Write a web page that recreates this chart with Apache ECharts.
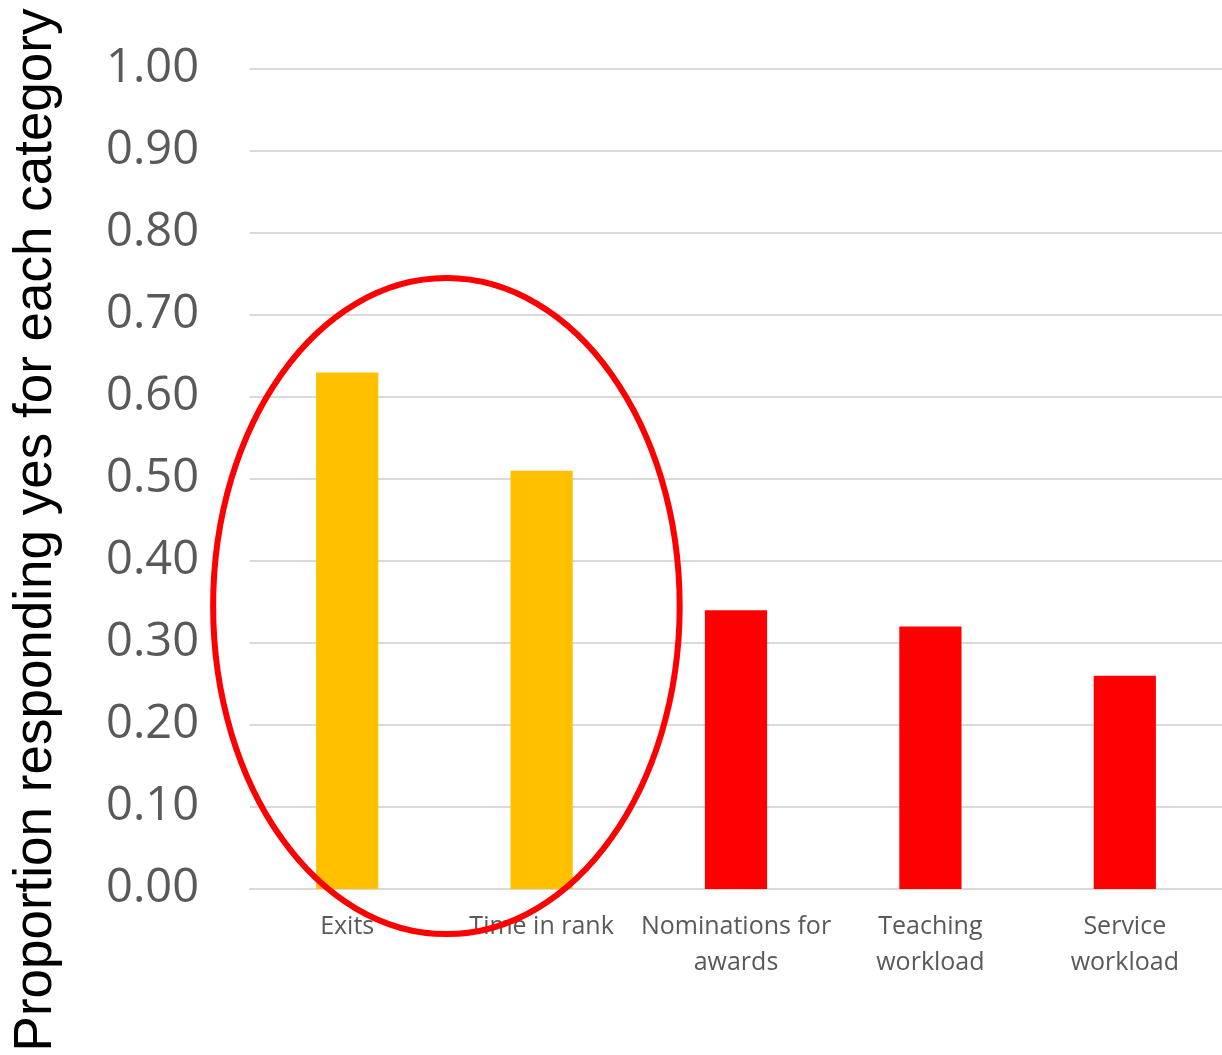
<!DOCTYPE html>
<html>
<head>
<meta charset="utf-8">
<script src="https://cdn.jsdelivr.net/npm/echarts@6/dist/echarts.min.js"></script>
<style>
  html, body { margin: 0; padding: 0; background: #ffffff; }
  #chart { width: 1222px; height: 1055px; }
</style>
</head>
<body>
<div id="chart"></div>
<script>
// Survey categories and the share answering "yes" in each
const categories = ['Exits', 'Time in rank', 'Nominations for\nawards', 'Teaching\nworkload', 'Service\nworkload'];
const proportions = [0.63, 0.51, 0.34, 0.32, 0.26];
const barColors = ['#FFC000', '#FFC000', '#FF0000', '#FF0000', '#FF0000'];
const yTicks = [0, 0.1, 0.2, 0.3, 0.4, 0.5, 0.6, 0.7, 0.8, 0.9, 1.0];
const yTitle = 'Proportion responding yes for each category';

const chart = echarts.init(document.getElementById('chart'), null, { renderer: 'canvas' });

chart.setOption({
  animation: false,
  backgroundColor: '#ffffff',
  grid: { left: 250, right: 0, top: 69, bottom: 166, containLabel: false, outerBoundsMode: 'none' },
  xAxis: {
    type: 'category',
    data: categories,
    axisLine: { show: true, lineStyle: { color: '#d9d9d9', width: 2 } },
    axisTick: { show: false },
    axisLabel: {
      interval: 0,
      margin: 20,
      color: '#595959',
      fontFamily: 'Open Sans',
      fontSize: 25,
      lineHeight: 36
    }
  },
  yAxis: {
    type: 'value',
    min: yTicks[0],
    max: yTicks[yTicks.length - 1],
    interval: 0.1,
    axisLine: { show: false },
    axisTick: { show: false },
    splitLine: { lineStyle: { color: '#d9d9d9', width: 2 } },
    axisLabel: {
      margin: 51,
      color: '#595959',
      fontFamily: 'Open Sans',
      fontSize: 47,
      formatter: v => v.toFixed(2)
    }
  },
  series: [{
    type: 'bar',
    barWidth: '32%',
    data: proportions.map((v, i) => ({ value: v, itemStyle: { color: barColors[i] } }))
  }]
});

// Highlight ring around the first two categories, plus the rotated axis title
const p0 = chart.convertToPixel({ seriesIndex: 0 }, [0, 0.345]);
const p1 = chart.convertToPixel({ seriesIndex: 0 }, [1, 0.345]);
const pTop = chart.convertToPixel({ seriesIndex: 0 }, [0, 0.745]);
const band = p1[0] - p0[0];
chart.setOption({
  graphic: [{
    type: 'ellipse',
    z: 100,
    shape: {
      cx: (p0[0] + p1[0]) / 2 + 2,
      cy: p0[1],
      rx: band * 1.2,
      ry: p0[1] - pTop[1]
    },
    style: { fill: 'none', stroke: '#FF0000', lineWidth: 6 }
  }, {
    type: 'text',
    x: 36,
    y: 530,
    rotation: Math.PI / 2,
    style: {
      text: yTitle,
      fill: '#000000',
      font: '53px "Liberation Sans", Arial, sans-serif',
      textAlign: 'center',
      textVerticalAlign: 'middle'
    }
  }]
});
</script>
</body>
</html>
